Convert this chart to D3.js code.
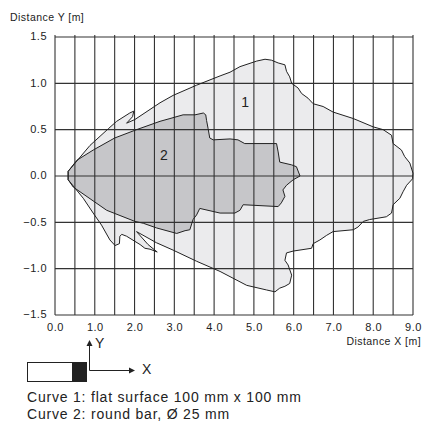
<!DOCTYPE html>
<html><head><meta charset="utf-8">
<script src="https://cdn.jsdelivr.net/npm/d3@7"></script>
<style>
html,body{margin:0;padding:0;background:#fff;}
svg{display:block;font-family:"Liberation Sans",Arial,sans-serif;}
</style></head>
<body><svg id="c" width="422" height="425"></svg>
<script>
// ---- data ----
const xTicks = [0, 1, 2, 3, 4, 5, 6, 7, 8, 9];
const yTicks = [1.5, 1.0, 0.5, 0.0, -0.5, -1.0, -1.5];
const gridStep = 0.5;
const curve1X = [0.33,0.88,1.34,1.55,1.88,1.98,1.95,1.80,2.01,2.64,2.97,3.56,4.15,4.40,4.65,5.07,5.28,5.44,5.61,5.78,5.82,5.90,5.95,6.11,6.20,6.36,6.49,6.74,6.99,7.50,8.00,8.25,8.46,8.50,8.71,8.79,8.92,9.00,8.99,8.84,8.75,8.67,8.50,8.46,8.33,7.91,7.75,7.62,7.50,6.99,6.83,6.66,6.49,6.45,5.99,5.82,5.78,5.86,5.95,5.90,5.78,5.65,5.53,5.32,4.82,4.15,3.56,2.97,2.55,2.05,2.34,2.51,2.57,2.39,2.26,2.14,1.80,1.68,1.63,1.62,1.51,1.38,1.17,0.96,0.71,0.33];
const curve1Y = [0.05,0.33,0.51,0.59,0.68,0.70,0.64,0.57,0.61,0.79,0.87,0.98,1.08,1.12,1.18,1.24,1.26,1.25,1.22,1.20,1.13,1.07,1.00,0.95,0.89,0.84,0.78,0.75,0.69,0.62,0.53,0.50,0.44,0.35,0.28,0.21,0.14,0.03,-0.03,-0.10,-0.17,-0.24,-0.31,-0.40,-0.44,-0.47,-0.49,-0.55,-0.58,-0.60,-0.64,-0.69,-0.73,-0.78,-0.81,-0.83,-0.91,-0.96,-1.07,-1.16,-1.19,-1.21,-1.25,-1.23,-1.18,-1.03,-0.92,-0.80,-0.72,-0.60,-0.74,-0.80,-0.82,-0.79,-0.78,-0.74,-0.65,-0.63,-0.65,-0.73,-0.75,-0.69,-0.53,-0.40,-0.24,-0.04];
const curve2X = [0.33,0.55,0.96,1.50,2.05,2.64,2.89,3.22,3.52,3.73,3.79,3.81,3.85,3.89,3.98,4.40,4.60,4.77,5.57,5.61,5.65,5.95,6.07,6.16,5.99,5.82,5.73,5.78,5.69,5.61,4.73,4.65,4.52,4.15,3.64,3.56,3.47,3.39,3.27,3.06,2.55,2.22,2.01,1.30,0.46,0.33];
const curve2Y = [0.05,0.17,0.28,0.41,0.50,0.59,0.62,0.66,0.66,0.68,0.66,0.60,0.51,0.41,0.39,0.40,0.39,0.35,0.35,0.26,0.15,0.12,0.10,0.00,-0.04,-0.10,-0.15,-0.22,-0.29,-0.33,-0.31,-0.37,-0.40,-0.40,-0.35,-0.42,-0.47,-0.58,-0.59,-0.62,-0.56,-0.51,-0.49,-0.37,-0.12,-0.04];
const curveLabels = ["1", "2"];
const labelX = [4.78, 2.74];
const labelY = [0.80, 0.23];
const legendLines = ["Curve 1: flat surface 100 mm x 100 mm", "Curve 2: round bar, \u00d8 25 mm"];

// ---- chart ----
const svg = d3.select("#c");
const x = d3.scaleLinear().domain([0, 9]).range([55, 413]);
const y = d3.scaleLinear().domain([-1.5, 1.5]).range([315, 37]);
const line = d3.line().x(d => x(d[0])).y(d => y(d[1]));
const c1 = curve1X.map((v, i) => [v, curve1Y[i]]);
const c2 = curve2X.map((v, i) => [v, curve2Y[i]]);

svg.append("path").attr("d", line(c1) + "Z").attr("fill", "#ebebed").attr("stroke", "none");
svg.append("path").attr("d", line(c2) + "Z").attr("fill", "#c6c6c9").attr("stroke", "none");

// grid
const gx = d3.range(0, 9 + 1e-9, gridStep);
const gy = d3.range(-1.5, 1.5 + 1e-9, gridStep);
const grid = svg.append("g").attr("stroke", "#333").attr("stroke-width", 1.1);
grid.selectAll("line.v").data(gx).join("line").attr("class", "v")
  .attr("x1", d => x(d)).attr("x2", d => x(d)).attr("y1", y(1.5) - 2).attr("y2", y(-1.5));
grid.selectAll("line.h").data(gy).join("line").attr("class", "h")
  .attr("x1", x(0)).attr("x2", x(9)).attr("y1", d => y(d)).attr("y2", d => y(d));

// outlines
svg.append("path").attr("d", line(c1) + "Z").attr("fill", "none").attr("stroke", "#222").attr("stroke-width", 1).attr("stroke-linejoin", "round");
svg.append("path").attr("d", line(c2) + "Z").attr("fill", "none").attr("stroke", "#222").attr("stroke-width", 1).attr("stroke-linejoin", "round");

// curve labels
svg.selectAll("text.cl").data(curveLabels).join("text").attr("class", "cl")
  .attr("x", (d, i) => x(labelX[i])).attr("y", (d, i) => y(labelY[i]))
  .attr("text-anchor", "middle").attr("dy", "0.36em")
  .attr("font-size", 14).attr("fill", "#222").text(d => d);

// axes
const xa = svg.append("g").attr("transform", `translate(0,${y(-1.5)})`)
  .call(d3.axisBottom(x).tickValues(xTicks).tickSize(0).tickPadding(8).tickFormat(d3.format(".1f")));
xa.select(".domain").remove();
xa.selectAll("text").attr("font-size", 11).attr("letter-spacing", 0.5).attr("fill", "#222").attr("font-family", "Liberation Sans, Arial, sans-serif");

const ya = svg.append("g").attr("transform", `translate(${x(0)},0)`)
  .call(d3.axisLeft(y).tickValues(yTicks).tickSize(0).tickPadding(8).tickFormat(d3.format(".1f")));
ya.select(".domain").remove();
ya.selectAll("text").attr("font-size", 11).attr("letter-spacing", 0.5).attr("fill", "#222").attr("dy", "0.25em").attr("font-family", "Liberation Sans, Arial, sans-serif");

svg.append("text").attr("x", 10).attr("y", 21).attr("font-size", 10.5).attr("letter-spacing", 0.45).attr("fill", "#222").text("Distance Y [m]");
svg.append("text").attr("x", 421).attr("y", 345).attr("text-anchor", "end").attr("font-size", 10.5).attr("letter-spacing", 0.45).attr("fill", "#222").text("Distance X [m]");

// legend sketch
const lg = svg.append("g");
lg.append("rect").attr("x", 27.5).attr("y", 362.5).attr("width", 59).attr("height", 19).attr("fill", "#fff").attr("stroke", "#222").attr("stroke-width", 1);
lg.append("rect").attr("x", 72).attr("y", 362.5).attr("width", 14.5).attr("height", 19).attr("fill", "#222");
lg.append("line").attr("x1", 89.5).attr("x2", 89.5).attr("y1", 370.5).attr("y2", 345).attr("stroke", "#222");
lg.append("path").attr("d", "M86.5,346 L89.5,340 L92.5,346 Z").attr("fill", "#222");
lg.append("line").attr("x1", 89.5).attr("x2", 130).attr("y1", 370.5).attr("y2", 370.5).attr("stroke", "#222");
lg.append("path").attr("d", "M129,367.5 L135,370.5 L129,373.5 Z").attr("fill", "#222");
lg.append("text").attr("x", 95).attr("y", 348).attr("font-size", 14).attr("fill", "#222").text("Y");
lg.append("text").attr("x", 142).attr("y", 374).attr("font-size", 14).attr("fill", "#222").text("X");
lg.selectAll("text.lt").data(legendLines).join("text").attr("class", "lt")
  .attr("x", 27).attr("y", (d, i) => 402 + i * 16.5).attr("font-size", 14).attr("letter-spacing", 0.8).attr("fill", "#222").text(d => d);
</script></body></html>
